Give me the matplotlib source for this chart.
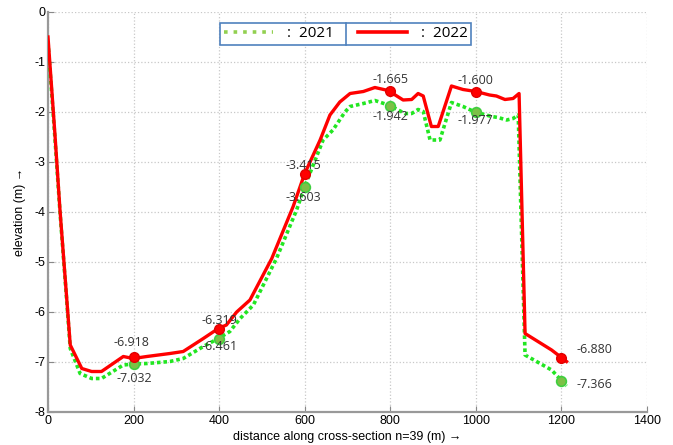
import matplotlib.pyplot as plt
from matplotlib.lines import Line2D

plt.rcParams['font.family'] = ['Liberation Sans', 'DejaVu Sans']
plt.rcParams['axes.unicode_minus'] = False

# cross-section profile, 2021 survey
x_2021 = [0, 16, 28, 44, 52, 75, 102, 125, 176, 200, 231, 285, 316, 363, 398, 425, 449, 480,
          534, 581, 600, 643, 666, 694, 706, 737, 764, 799, 834, 850, 865, 877, 893, 916,
          943, 970, 998, 1037, 1052, 1072, 1087, 1099, 1115, 1177, 1212]
y_2021 = [-0.6, -2.5, -4.0, -5.8, -6.73, -7.23, -7.33, -7.33, -7.06, -7.04, -7.03, -6.99, -6.93,
          -6.69, -6.53, -6.39, -6.13, -5.86, -4.93, -3.96, -3.49, -2.56, -2.36, -2.0, -1.89,
          -1.83, -1.77, -1.87, -2.03, -2.03, -1.95, -1.99, -2.56, -2.56, -1.81, -1.89, -2.0,
          -2.09, -2.11, -2.16, -2.13, -2.06, -6.86, -7.16, -7.48]

# cross-section profile, 2022 survey
x_2022 = [0, 16, 28, 44, 52, 79, 102, 125, 176, 199, 231, 285, 316, 363, 398, 417, 441, 472,
          523, 573, 600, 636, 659, 682, 706, 737, 764, 795, 830, 850, 865, 877, 896, 912,
          943, 970, 1000, 1032, 1048, 1068, 1087, 1101, 1115, 1177, 1212]
y_2022 = [-0.5, -2.42, -3.96, -5.76, -6.66, -7.13, -7.19, -7.19, -6.89, -6.93, -6.89, -6.83, -6.79,
          -6.53, -6.33, -6.26, -6.0, -5.76, -4.93, -3.89, -3.23, -2.56, -2.06, -1.8, -1.63,
          -1.59, -1.51, -1.57, -1.76, -1.75, -1.63, -1.68, -2.29, -2.29, -1.48, -1.55, -1.59,
          -1.66, -1.68, -1.75, -1.73, -1.63, -6.43, -6.76, -6.99]

# labelled points
x_marks = [200, 400, 600, 800, 1000, 1200]
y_marks_2021 = [-7.04, -6.53, -3.49, -1.87, -2.0, -7.38]
y_marks_2022 = [-6.9, -6.33, -3.23, -1.57, -1.59, -6.91]
labels_2021 = ['-7.032', '-6.461', '-3.603', '-1.942', '-1.977', '-7.366']
labels_2022 = ['-6.918', '-6.319', '-3.415', '-1.665', '-1.600', '-6.880']

# label offsets in pixels
off_2021 = [(1, -15), (0, -8), (-1, -11), (0, -11), (0, -9), (33, -4)]
off_2022 = [(-2, 14), (0, 8), (-1, 8), (0, 11), (0, 11), (33, 8)]

fig = plt.figure(figsize=(6.73, 4.45), dpi=100)
ax = fig.add_axes([48/673, 33/445, 599/673, 400/445])

ax.plot(x_2021, y_2021, color='#22e622', lw=2.6, ls=(0, (1, 0.8)), zorder=3)
ax.plot(x_2022, y_2022, '-', color='#ff0000', lw=2.4, zorder=4)
ax.plot(x_marks, y_marks_2021, 'o', ms=7, mfc='#7cc046', mec='#3fcf3f', mew=1.2, zorder=5)
ax.plot(x_marks, y_marks_2022, 'o', ms=7, mfc='#ff0000', mec='#e00000', zorder=6)

afont = dict(family=['Open Sans', 'DejaVu Sans'], fontsize=9, color='#333333',
             ha='center', va='center')
for x, y, t, o in zip(x_marks, y_marks_2021, labels_2021, off_2021):
    ax.annotate(t, (x, y), xytext=o, textcoords='offset pixels', zorder=7, **afont)
for x, y, t, o in zip(x_marks, y_marks_2022, labels_2022, off_2022):
    ax.annotate(t, (x, y), xytext=o, textcoords='offset pixels', zorder=7, **afont)

ax.set_xlim(0, 1400)
ax.set_ylim(-8, 0)
ax.set_xticks(range(0, 1401, 200))
ax.set_yticks(range(-8, 1))
ax.grid(True, linestyle=':', color='#c8c8c8', lw=0.9)
ax.tick_params(direction='in', length=4, color='#888888', labelsize=9, pad=2)
for s in ['top', 'right']:
    ax.spines[s].set_visible(False)
for s in ['left', 'bottom']:
    ax.spines[s].set_color('#999999')
    ax.spines[s].set_linewidth(1.6)

ax.set_xlabel('distance along cross-section n=39 (m) \u2192', fontsize=9, labelpad=3)
ax.set_ylabel('elevation (m) \u2192', fontsize=9, labelpad=6)

handles = [Line2D([], [], ls=':', color='#92d050', lw=2.6),
           Line2D([], [], ls='-', color='#ff0000', lw=2.6)]
leg = fig.legend(handles, [':  2021', ':  2022'], loc='center', ncol=2,
                 bbox_to_anchor=(0.514, 0.924), fancybox=False, framealpha=1,
                 edgecolor='#4f81bd', handlelength=3.2, columnspacing=1.6,
                 borderpad=0.25, handletextpad=0.9,
                 prop={'family': ['Open Sans', 'DejaVu Sans'], 'size': 11})
leg.get_frame().set_linewidth(1.2)

fig.canvas.draw()
bb = leg.get_window_extent().transformed(fig.transFigure.inverted())
xm = (bb.x0 + bb.x1) / 2
fig.add_artist(Line2D([xm, xm], [bb.y0, bb.y1], color='#4f81bd', lw=1.2, zorder=10))

fig.savefig('out.png', dpi=100)
